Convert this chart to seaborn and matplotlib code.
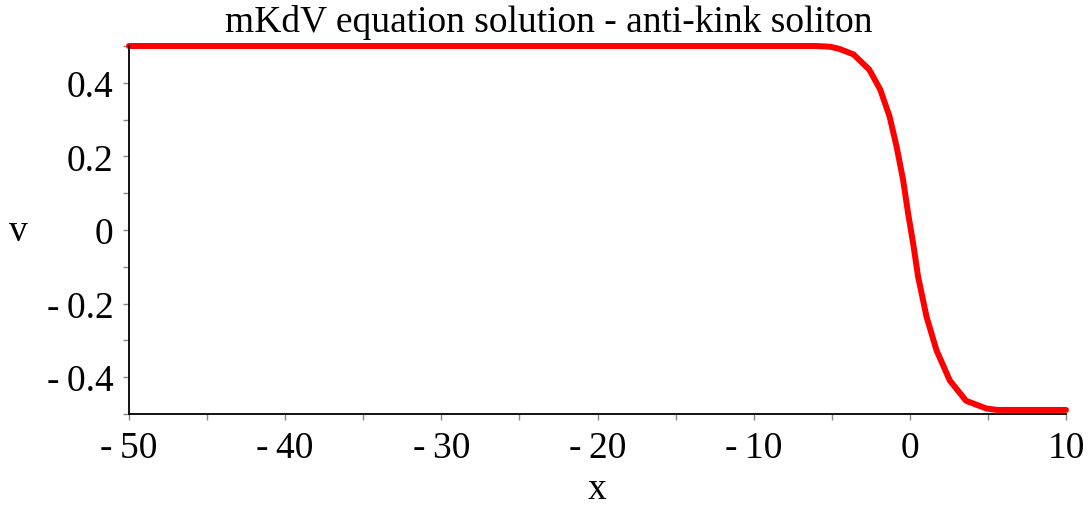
import matplotlib
matplotlib.use("Agg")
import matplotlib.pyplot as plt
import seaborn as sns
import pandas as pd
import numpy as np
from matplotlib.ticker import MultipleLocator, FixedLocator

# Data
x_vals = [-50, -10, -6, -5.1, -4.5, -3.6, -2.6, -1.9, -1.3, -0.85, -0.43, -0.11,
          0.21, 0.53, 1.07, 1.71, 2.56, 3.6, 4.9, 5.6, 10]
v_vals = [0.5, 0.5, 0.5, 0.498, 0.492, 0.477, 0.436, 0.382, 0.309, 0.227, 0.136, 0.045,
          -0.036, -0.127, -0.236, -0.327, -0.409, -0.464, -0.485, -0.489, -0.489]

title = "mKdV equation solution - anti-kink soliton"
x_ticks = [-50, -40, -30, -20, -10, 0, 10]
y_ticks = [-0.4, -0.2, 0, 0.2, 0.4]

def fmt(v):
    s = f"{abs(v):g}"
    return ("-\u2009" + s) if v < 0 else s

sns.set_style("ticks")
plt.rcParams['font.family'] = ['Liberation Serif', 'DejaVu Serif']

df = pd.DataFrame({"x": x_vals, "v": v_vals})

fig = plt.figure(figsize=(10.91, 5.06), dpi=100)
ax = fig.add_axes([129/1091, 1 - 415/506, (1066 - 129)/1091, (415 - 47)/506])

sns.lineplot(data=df, x="x", y="v", ax=ax, color="#ff0000", linewidth=4.3,
             clip_on=False, sort=False)
ax.set_xlim(-50, 10)
ax.set_ylim(-0.5, 0.5)

ax.xaxis.set_major_locator(FixedLocator(x_ticks))
ax.yaxis.set_major_locator(FixedLocator(y_ticks))
ax.xaxis.set_minor_locator(MultipleLocator(5))
ax.yaxis.set_minor_locator(MultipleLocator(0.1))
ax.set_xticklabels([fmt(t) for t in x_ticks])
ax.set_yticklabels([fmt(t) for t in y_ticks])

ax.tick_params(axis="both", which="both", direction="out", length=4, width=1,
               color="#888888", labelsize=27, labelcolor="black")
ax.tick_params(axis="x", pad=8)
ax.tick_params(axis="y", pad=7)

for side in ["top", "right"]:
    ax.spines[side].set_visible(False)
for side in ["left", "bottom"]:
    ax.spines[side].set_color("black")
    ax.spines[side].set_linewidth(1.3)

ax.set_xlabel("x", fontsize=27, labelpad=0, color="black")
ax.set_ylabel("v", fontsize=27, rotation=0, labelpad=0, color="black")
ax.xaxis.set_label_coords((597 - 129) / (1066 - 129), -(490 - 415) / (415 - 47))
ax.yaxis.set_label_coords(-(129 - 18) / (1066 - 129), (415 - 232) / (415 - 47))
ax.xaxis.label.set_va("center")
ax.yaxis.label.set_va("center")
ax.yaxis.label.set_ha("center")

fig.text(549/1091, 1 - 22/506, title, ha="center", va="center", fontsize=27,
         color="black")

fig.savefig("out.png", dpi=100)
